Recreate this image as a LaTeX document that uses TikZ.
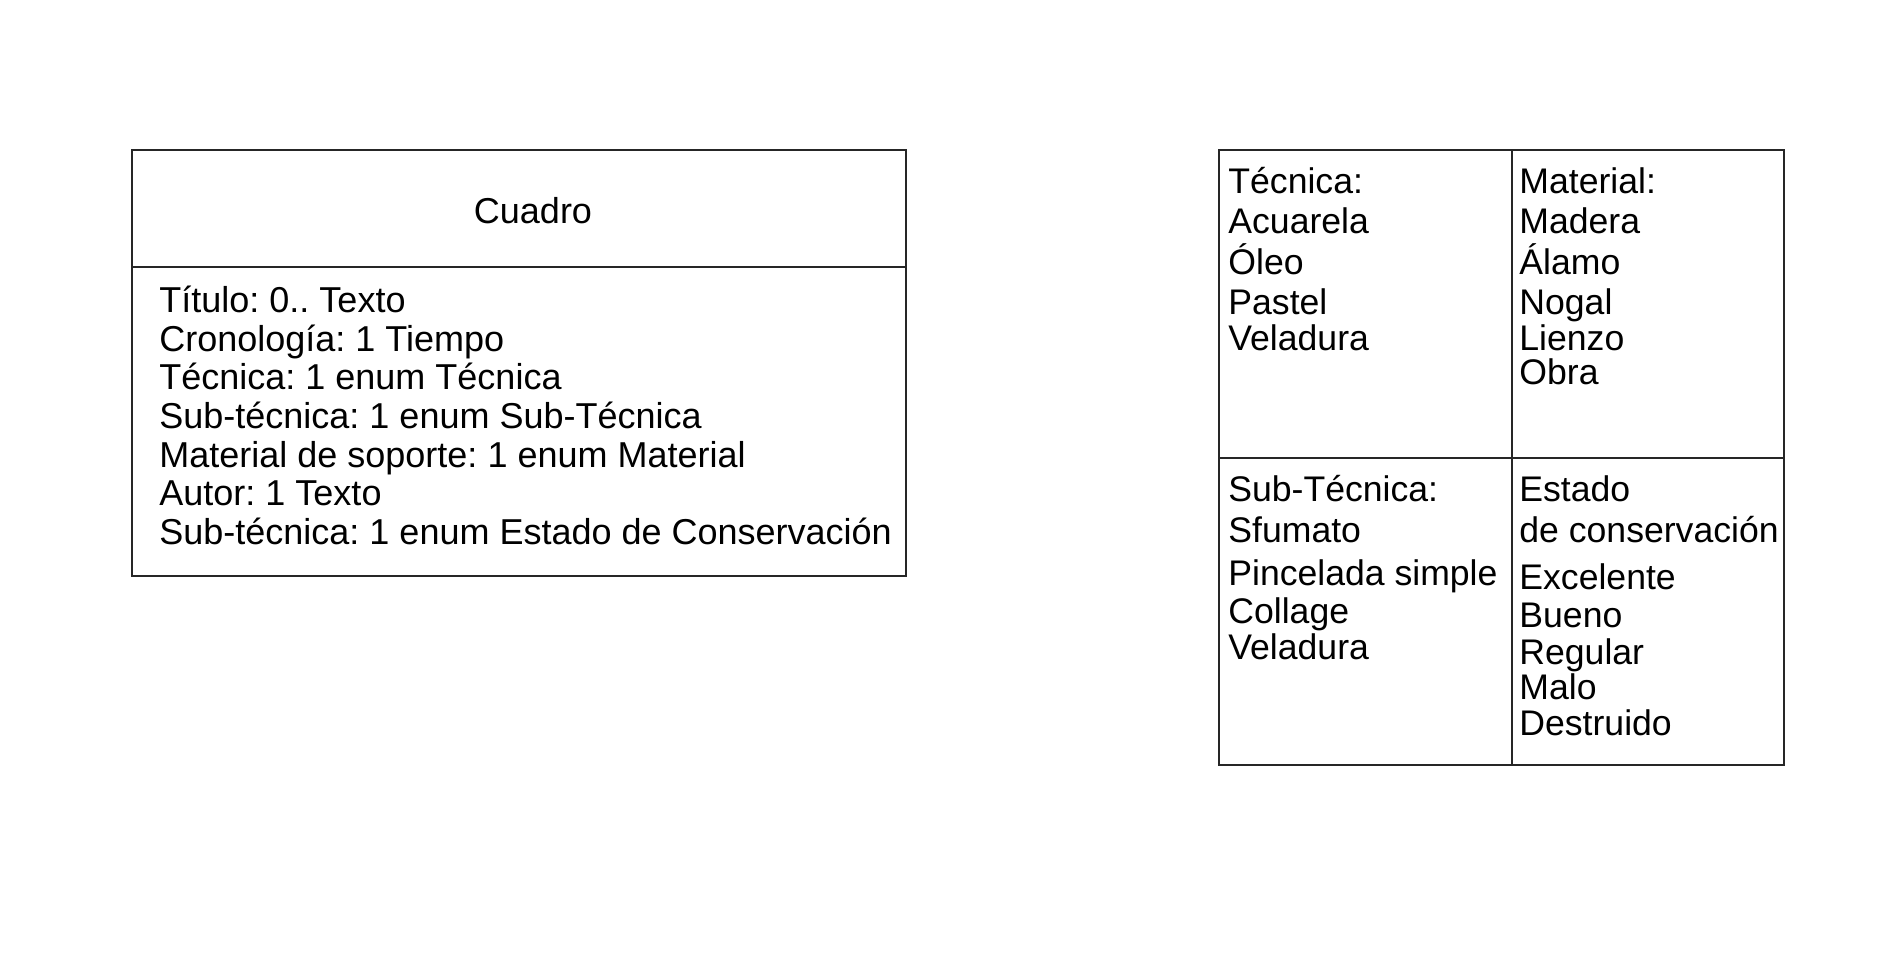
\documentclass[tikz,border=0pt]{standalone}
\usepackage{fontspec}
\setmainfont{Liberation Sans}
\frenchspacing
\begin{document}
\begin{tikzpicture}[x=0.5pt,y=-0.5pt,
  frame/.style={draw=black!85, line width=0.7pt},
  ltxt/.style={anchor=base west, inner sep=0pt, font=\fontsize{18}{20}\selectfont},
  rtxt/.style={anchor=base west, inner sep=0pt, font=\fontsize{17.8}{20}\selectfont}]
\useasboundingbox (0,0) rectangle (1884,962);
% left class box
\draw[frame] (132,150) rectangle (906,576);
\draw[frame] (132,267) -- (906,267);
\node[anchor=base, inner sep=0pt, font=\fontsize{18}{20}\selectfont] (cuadro) at (533,224) {Cuadro};
\foreach \t [count=\i] in {Título: 0.. Texto, Cronología: 1 Tiempo, Técnica: 1 enum Técnica, Sub-técnica: 1 enum Sub-Técnica, Material de soporte: 1 enum Material, Autor: 1 Texto, Sub-técnica: 1 enum Estado de Conservación}
  \node[ltxt] (a\i) at (159,{313+38.5*(\i-1)}) {\t};
% right enum grid
\draw[frame] (1219,150) rectangle (1784,765);
\draw[frame] (1512,150) -- (1512,765);
\draw[frame] (1219,458) -- (1784,458);
\foreach \t/\y [count=\i] in {Técnica:/194, Acuarela/234, Óleo/275, Pastel/315, Veladura/351}
  \node[rtxt] (tl\i) at (1228,\y) {\t};
\foreach \t/\y [count=\i] in {Material:/194, Madera/234, Álamo/275, Nogal/315, Lienzo/351, Obra/385}
  \node[rtxt] (tr\i) at (1519,\y) {\t};
\foreach \t/\y [count=\i] in {Sub-Técnica:/502, Sfumato/542, Pincelada simple/585, Collage/623, Veladura/659}
  \node[rtxt] (bl\i) at (1228,\y) {\t};
\foreach \t/\y [count=\i] in {Estado/502, de conservación/542, Excelente/589, Bueno/627, Regular/664, Malo/699, Destruido/735}
  \node[rtxt] (br\i) at (1519,\y) {\t};
\end{tikzpicture}
\end{document}
